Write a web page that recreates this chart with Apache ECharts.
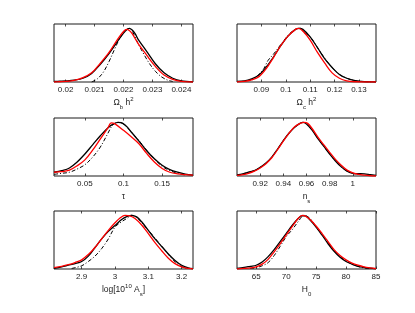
<!DOCTYPE html>
<html><head><meta charset="utf-8">
<script src="https://cdn.jsdelivr.net/npm/echarts@6/dist/echarts.min.js"></script>
<style>html,body{margin:0;padding:0;background:#fff}#c{width:415px;height:313px}</style>
</head><body><div id="c"></div>
<script>
// ---- axis settings (ranges and ticks) ----
const axisMin = [0.0196, 0.080, 0.010, 0.900, 2.817, 61.8];
const axisMax = [0.0244, 0.137, 0.190, 1.020, 3.234, 85.0];
const tickValues = [
  [0.020, 0.021, 0.022, 0.023, 0.024],
  [0.09, 0.10, 0.11, 0.12, 0.13],
  [0.05, 0.10, 0.15],
  [0.92, 0.94, 0.96, 0.98, 1.00],
  [2.9, 3.0, 3.1, 3.2],
  [65, 70, 75, 80, 85]
];
const tickLabels = [
  ['0.02', '0.021', '0.022', '0.023', '0.024'],
  ['0.09', '0.1', '0.11', '0.12', '0.13'],
  ['0.05', '0.1', '0.15'],
  ['0.92', '0.94', '0.96', '0.98', '1'],
  ['2.9', '3', '3.1', '3.2'],
  ['65', '70', '75', '80', '85']
];
const axisNames = [
  '{t|Ω}{s|b}{t| h}{p|2}',
  '{t|Ω}{s|c}{t| h}{p|2}',
  '{t|τ}',
  '{t|n}{s|s}',
  '{t|log[10}{p|10}{t| A}{s|s}{t|]}',
  '{t|H}{s|0}'
];

// ---- panel 1: Omega_b h^2 ----
const p1BlackX = [0.0196,0.0198,0.0200,0.0203,0.0206,0.0209,0.0212,0.0215,0.0218,0.0220,0.0221,0.0222,0.0223,0.0224,0.0225,0.0228,0.0231,0.0234,0.0237,0.0240,0.0244];
const p1BlackY = [0.01,0.015,0.02,0.035,0.07,0.16,0.33,0.53,0.76,0.91,0.97,1.0,0.97,0.9,0.8,0.57,0.34,0.17,0.07,0.02,0.005];
const p1RedX = [0.0196,0.0198,0.0200,0.0203,0.0206,0.0209,0.0212,0.0215,0.0218,0.0220,0.0221,0.0222,0.0223,0.0225,0.0228,0.0231,0.0234,0.0237,0.0240,0.0244];
const p1RedY = [0.0,0.005,0.01,0.03,0.08,0.17,0.35,0.55,0.8,0.94,0.98,0.96,0.9,0.72,0.5,0.29,0.13,0.05,0.01,0.0];
const p1DashX = [0.0209,0.0211,0.0213,0.0215,0.0217,0.0219,0.0221,0.0222,0.0223,0.0225,0.0227,0.0229,0.0231,0.0233,0.0235,0.0237];
const p1DashY = [0.0,0.06,0.18,0.38,0.62,0.84,0.97,1.0,0.95,0.72,0.52,0.34,0.2,0.1,0.04,0.01];

// ---- panel 2: Omega_c h^2 ----
const p2BlackX = [0.080,0.083,0.086,0.089,0.092,0.095,0.098,0.101,0.104,0.1055,0.107,0.110,0.113,0.116,0.119,0.122,0.125,0.128,0.131,0.137];
const p2BlackY = [0.01,0.02,0.06,0.13,0.28,0.47,0.68,0.86,0.98,1.0,0.98,0.84,0.64,0.43,0.27,0.14,0.07,0.03,0.01,0.0];
const p2RedX = [0.080,0.083,0.086,0.089,0.092,0.095,0.098,0.101,0.104,0.1052,0.107,0.110,0.113,0.116,0.119,0.122,0.125,0.128,0.137];
const p2RedY = [0.0,0.01,0.04,0.10,0.25,0.46,0.68,0.86,0.98,1.0,0.95,0.78,0.55,0.35,0.17,0.07,0.02,0.005,0.0];
const p2DashX = [0.085,0.088,0.091,0.0927,0.095,0.098,0.101,0.104,0.106,0.1073,0.110,0.113,0.116,0.119,0.122,0.125,0.128,0.131,0.135];
const p2DashY = [0.03,0.10,0.25,0.40,0.52,0.70,0.87,0.98,1.0,0.93,0.84,0.64,0.44,0.27,0.14,0.07,0.03,0.01,0.0];

// ---- panel 3: tau ----
const p3BlackX = [0.01,0.02,0.03,0.04,0.05,0.06,0.07,0.08,0.087,0.093,0.099,0.105,0.11,0.12,0.13,0.14,0.15,0.16,0.17,0.18,0.19];
const p3BlackY = [0.07,0.10,0.15,0.26,0.41,0.58,0.75,0.90,0.97,1.0,0.98,0.91,0.82,0.65,0.47,0.32,0.20,0.12,0.07,0.035,0.015];
const p3RedX = [0.01,0.02,0.03,0.04,0.05,0.06,0.07,0.08,0.084,0.089,0.10,0.11,0.12,0.13,0.14,0.15,0.16,0.17,0.18,0.19];
const p3RedY = [0.07,0.08,0.11,0.19,0.30,0.48,0.69,0.90,0.99,0.97,0.85,0.73,0.60,0.42,0.26,0.14,0.07,0.04,0.025,0.015];
const p3DashX = [0.01,0.02,0.03,0.04,0.05,0.06,0.07,0.08,0.085,0.09,0.095,0.10,0.11,0.12,0.13,0.14,0.15,0.16,0.17,0.18];
const p3DashY = [0.03,0.05,0.07,0.13,0.21,0.35,0.54,0.80,0.93,0.99,1.0,0.97,0.82,0.66,0.48,0.32,0.18,0.10,0.05,0.02];

// ---- panel 4: n_s ----
const p4BlackX = [0.900,0.905,0.910,0.915,0.920,0.925,0.930,0.935,0.940,0.945,0.950,0.954,0.957,0.960,0.965,0.970,0.975,0.980,0.985,0.990,0.995,1.000,1.005,1.010,1.015,1.020];
const p4BlackY = [0.02,0.04,0.07,0.10,0.16,0.24,0.35,0.50,0.66,0.80,0.91,0.975,1.0,0.97,0.85,0.69,0.55,0.41,0.28,0.17,0.09,0.05,0.045,0.04,0.025,0.01];
const p4RedX = [0.900,0.905,0.910,0.915,0.920,0.925,0.930,0.935,0.940,0.945,0.950,0.955,0.958,0.961,0.965,0.970,0.975,0.980,0.985,0.990,0.995,1.000,1.005,1.010,1.015,1.020];
const p4RedY = [0.01,0.025,0.05,0.09,0.15,0.23,0.34,0.49,0.65,0.80,0.92,0.985,1.0,0.98,0.88,0.72,0.58,0.44,0.31,0.20,0.11,0.06,0.03,0.015,0.005,0.0];
const p4DashX = [0.905,0.910,0.915,0.920,0.925,0.930,0.935,0.940,0.945,0.950,0.954,0.957,0.960,0.965,0.970,0.975,0.980,0.985,0.990,0.995,1.000,1.005];
const p4DashY = [0.04,0.07,0.10,0.16,0.24,0.35,0.50,0.66,0.80,0.91,0.975,1.0,0.97,0.85,0.69,0.55,0.41,0.28,0.17,0.09,0.05,0.03];

// ---- panel 5: log[10^10 A_s] ----
const p5BlackX = [2.817,2.84,2.86,2.88,2.90,2.92,2.94,2.96,2.98,3.00,3.02,3.035,3.05,3.065,3.08,3.10,3.12,3.14,3.16,3.18,3.20,3.22,3.234];
const p5BlackY = [0.01,0.04,0.07,0.10,0.14,0.24,0.40,0.56,0.70,0.81,0.92,0.975,1.0,0.97,0.88,0.72,0.56,0.42,0.28,0.16,0.07,0.02,0.006];
const p5RedX = [2.817,2.84,2.86,2.88,2.90,2.92,2.94,2.96,2.98,3.00,3.015,3.03,3.045,3.06,3.08,3.10,3.12,3.14,3.16,3.18,3.20,3.22,3.234];
const p5RedY = [0.025,0.05,0.08,0.12,0.17,0.27,0.40,0.56,0.72,0.86,0.95,1.0,0.99,0.94,0.82,0.66,0.49,0.34,0.2,0.1,0.04,0.01,0.0];
const p5DashX = [2.87,2.90,2.92,2.94,2.96,2.98,3.00,3.02,3.04,3.05,3.07,3.09,3.11,3.13,3.15,3.17,3.19,3.21,3.22];
const p5DashY = [0.01,0.06,0.14,0.24,0.38,0.56,0.78,0.88,0.96,1.0,0.93,0.79,0.65,0.50,0.35,0.20,0.08,0.02,0.01];

// ---- panel 6: H_0 ----
const p6BlackX = [61.8,63,64,65,66,67,68,69,70,71,72,72.6,73.2,74,75,76,77,78,79,80,81,82,83,84,85];
const p6BlackY = [0.01,0.03,0.05,0.07,0.13,0.23,0.36,0.51,0.66,0.81,0.94,0.99,0.99,0.91,0.78,0.63,0.47,0.33,0.22,0.14,0.09,0.05,0.03,0.015,0.005];
const p6RedX = [61.8,63,64,65,66,67,68,69,70,71,72,72.7,73.3,74,75,76,77,78,79,80,81,82,83,84,85];
const p6RedY = [0.0,0.01,0.02,0.04,0.09,0.18,0.32,0.47,0.63,0.79,0.94,1.0,0.98,0.92,0.80,0.66,0.51,0.36,0.25,0.17,0.11,0.07,0.04,0.02,0.005];
const p6DashX = [64,65,66,67,68,69,70,71,72,73,74,75,76,77,78,79,80,81,82,83,84];
const p6DashY = [0.01,0.025,0.06,0.12,0.25,0.42,0.60,0.73,0.88,1.0,0.94,0.78,0.64,0.49,0.35,0.23,0.15,0.09,0.05,0.02,0.01];

const panels = [
  [p1BlackX,p1BlackY,p1DashX,p1DashY,p1RedX,p1RedY],
  [p2BlackX,p2BlackY,p2DashX,p2DashY,p2RedX,p2RedY],
  [p3BlackX,p3BlackY,p3DashX,p3DashY,p3RedX,p3RedY],
  [p4BlackX,p4BlackY,p4DashX,p4DashY,p4RedX,p4RedY],
  [p5BlackX,p5BlackY,p5DashX,p5DashY,p5RedX,p5RedY],
  [p6BlackX,p6BlackY,p6DashX,p6DashY,p6RedX,p6RedY]
];

// ---- layout ----
const colLeft = [54, 237];
const rowTop = [24, 118, 211];
const boxW = 139, boxH = 58;
const FONT = 'Liberation Sans';

const zip = (xs, ys) => xs.map((x, i) => [x, ys[i]]);
const grids = [], xAxes = [], yAxes = [], series = [];
for (let i = 0; i < 6; i++) {
  const r = Math.floor(i / 2), c = i % 2;
  grids.push({left: colLeft[c], top: rowTop[r], width: boxW, height: boxH,
    show: true, borderColor: '#1a1a1a', borderWidth: 1, backgroundColor: '#fff', containLabel: false});
  const tv = tickValues[i], tl = tickLabels[i];
  const fmt = v => { let k = 0, best = Infinity; tv.forEach((t, j) => { const d = Math.abs(t - v); if (d < best) { best = d; k = j; } }); return tl[k]; };
  xAxes.push({type: 'value', gridIndex: i, min: axisMin[i], max: axisMax[i], position: 'bottom',
    axisLine: {show: false}, splitLine: {show: false},
    axisTick: {show: true, inside: true, length: 2.5, customValues: tv, lineStyle: {color: '#222', width: 0.8}},
    axisLabel: {show: true, customValues: tv, formatter: fmt, fontSize: 8, color: '#222', margin: 4, fontFamily: FONT},
    name: axisNames[i], nameLocation: 'middle', nameGap: 14,
    nameTextStyle: {color: '#222', fontFamily: FONT, rich: {
      t: {fontSize: 8.5, fontFamily: FONT, color: '#222', lineHeight: 14, verticalAlign: 'middle'},
      s: {fontSize: 6, fontFamily: FONT, color: '#222', lineHeight: 14, verticalAlign: 'bottom', padding: [6, 0, 0, 0]},
      p: {fontSize: 6, fontFamily: FONT, color: '#222', lineHeight: 14, verticalAlign: 'top', padding: [0, 0, 5, 0]}
    }}
  });
  xAxes.push({type: 'value', gridIndex: i, min: axisMin[i], max: axisMax[i], position: 'top',
    axisLine: {show: false}, splitLine: {show: false}, axisLabel: {show: false},
    axisTick: {show: true, inside: true, length: 2.5, customValues: tv, lineStyle: {color: '#222', width: 0.8}}
  });
  yAxes.push({type: 'value', gridIndex: i, min: 0, max: 1.08, show: false});
  const d = panels[i];
  series.push({type: 'line', xAxisIndex: 2 * i, yAxisIndex: i, data: zip(d[2], d[3]), smooth: 0.35, symbol: 'none',
    lineStyle: {color: '#000', width: 1, type: [4, 2, 1, 2]}, z: 2});
  series.push({type: 'line', xAxisIndex: 2 * i, yAxisIndex: i, data: zip(d[0], d[1]), smooth: 0.35, symbol: 'none',
    lineStyle: {color: '#000', width: 1.3}, z: 3});
  series.push({type: 'line', xAxisIndex: 2 * i, yAxisIndex: i, data: zip(d[4], d[5]), smooth: 0.35, symbol: 'none',
    lineStyle: {color: '#ff0000', width: 1.3}, z: 4});
}

const chart = echarts.init(document.getElementById('c'), null, {renderer: 'canvas'});
chart.setOption({backgroundColor: '#fff', animation: false, grid: grids, xAxis: xAxes, yAxis: yAxes, series: series});
</script>
</body></html>
